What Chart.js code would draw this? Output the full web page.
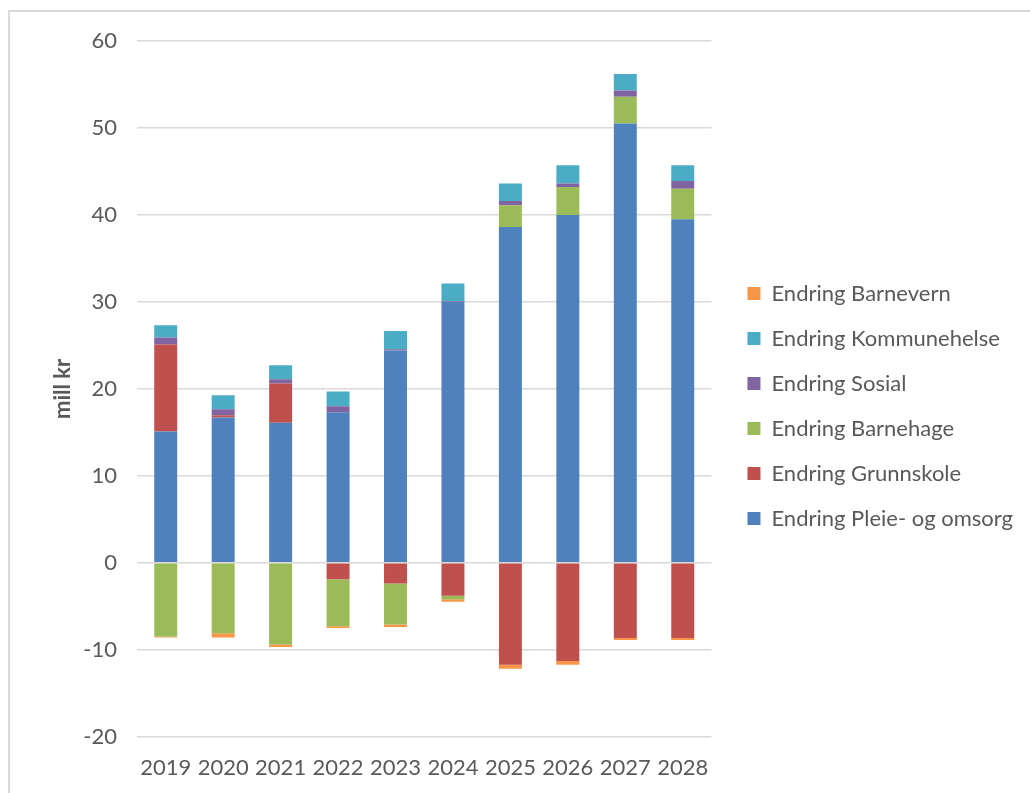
<!DOCTYPE html>
<html>
<head>
<meta charset="utf-8">
<script src="https://cdn.jsdelivr.net/npm/chart.js@4"></script>
<style>
  html, body { margin: 0; padding: 0; background: #fff; }
  #frame { position: absolute; left: 8px; top: 10px; width: 1030px; height: 800px;
           border-top: 2px solid #d9d9d9; border-left: 2px solid #d9d9d9; }
  #wrap { position: absolute; left: 0; top: 0; width: 1030px; height: 793px; }
</style>
</head>
<body>
<div id="frame"></div>
<div id="wrap"><canvas id="myChart" width="1030" height="793"></canvas></div>
<script>
const years = ['2019', '2020', '2021', '2022', '2023', '2024', '2025', '2026', '2027', '2028'];

const pleie = [15.1, 16.7, 16.1, 17.3, 24.4, 30.0, 38.6, 40.0, 50.5, 39.5];
const grunnskole = [10.0, 0.25, 4.5, -1.9, -2.4, -3.8, -11.75, -11.3, -8.65, -8.65];
const barnehage = [-8.5, -8.1, -9.4, -5.4, -4.7, -0.4, 2.5, 3.2, 3.1, 3.5];
const sosial = [0.8, 0.7, 0.5, 0.7, 0.15, 0.1, 0.5, 0.4, 0.7, 0.9];
const kommunehelse = [1.4, 1.6, 1.6, 1.7, 2.1, 2.0, 2.0, 2.1, 1.9, 1.8];
const barnevern = [-0.1, -0.5, -0.3, -0.2, -0.3, -0.3, -0.45, -0.45, -0.25, -0.25];

const yTicks = [60, 50, 40, 30, 20, 10, 0, -10, -20];

const textColor = '#595959';
const gridColor = '#d9d9d9';

const ctx = document.getElementById('myChart').getContext('2d');

// push the legend a little away from the plot (and up a bit), like the excel original
const legendShift = {
  id: 'legendShift',
  afterLayout(chart) {
    chart.legend.left += 13;
    chart.legend.right += 13;
    chart.legend.top -= 14;
    chart.legend.bottom -= 14;
  }
};

const data = {
  labels: years,
  datasets: [
    { label: 'Endring Pleie- og omsorg', data: pleie, backgroundColor: '#4f81bd' },
    { label: 'Endring Grunnskole', data: grunnskole, backgroundColor: '#c0504d' },
    { label: 'Endring Barnehage', data: barnehage, backgroundColor: '#9bbb59' },
    { label: 'Endring Sosial', data: sosial, backgroundColor: '#8064a2' },
    { label: 'Endring Kommunehelse', data: kommunehelse, backgroundColor: '#4bacc6' },
    { label: 'Endring Barnevern', data: barnevern, backgroundColor: '#f79646' }
  ]
};

const config = {
  type: 'bar',
  data: data,
  plugins: [legendShift],
  options: {
    responsive: false,
    animation: false,
    barPercentage: 0.4,
    categoryPercentage: 1.0,
    layout: { padding: { left: 50, top: 41, right: 20, bottom: -6 } },
    plugins: {
      tooltip: { enabled: false },
      legend: {
        position: 'right',
        reverse: true,
        maxWidth: 300,
        labels: {
          boxWidth: 13,
          boxHeight: 13,
          padding: 23,
          color: textColor,
          font: { family: 'Lato', size: 22 }
        }
      }
    },
    scales: {
      x: {
        stacked: true,
        grid: { display: false, drawTicks: false },
        border: { display: false },
        ticks: { color: textColor, padding: 18, font: { family: 'Lato', size: 22 } }
      },
      y: {
        stacked: true,
        min: -20,
        max: 60,
        afterFit: function (scale) { scale.width = 87; },
        afterBuildTicks: function (scale) { scale.ticks = yTicks.map(v => ({ value: v })); },
        grid: { color: gridColor, lineWidth: 1.5, drawTicks: false },
        border: { display: false },
        ticks: { color: textColor, padding: 20, font: { family: 'Lato', size: 22 } },
        title: {
          display: true,
          text: 'mill kr',
          color: textColor,
          padding: 0,
          font: { family: 'Lato', size: 22, weight: 'bold' }
        }
      }
    }
  }
};

const myChart = new Chart(ctx, config);
</script>
</body>
</html>
